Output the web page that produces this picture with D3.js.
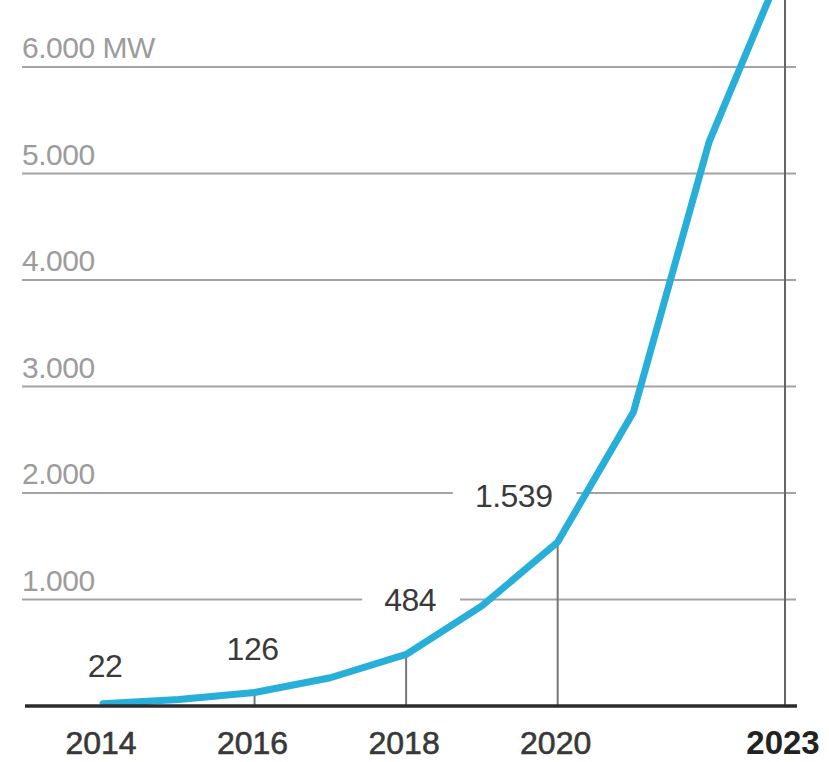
<!DOCTYPE html>
<html>
<head>
<meta charset="utf-8">
<script src="https://cdn.jsdelivr.net/npm/d3@7"></script>
<style>
  html, body { margin: 0; padding: 0; background: #fff; }
  svg { display: block; }
  text { font-family: "Liberation Sans", Arial, sans-serif; }
</style>
</head>
<body>
<div id="wrapper"></div>
<script>
// data (MW installed, per year)
const years = [2014, 2015, 2016, 2017, 2018, 2019, 2020, 2021, 2022, 2023];
const capacity = [22, 60, 126, 265, 484, 940, 1539, 2760, 5300, 7000];

const yTicks = [1000, 2000, 3000, 4000, 5000, 6000];
const yTickLabels = ["1.000", "2.000", "3.000", "4.000", "5.000", "6.000 MW"];

const xTicks = [2014, 2016, 2018, 2020, 2023];
const xTickLabels = ["2014", "2016", "2018", "2020", "2023"];

// labelled points and the vertical drop lines
const labelYears = [2014, 2016, 2018, 2020];
const labelTexts = ["22", "126", "484", "1.539"];
const dropYears = [2016, 2018, 2020];

function draw() {
    const width = 829;
    const height = 762;

    const dimensions = {
        left: 22,
        right: 797,
        top: 67,
        base: 706,
    };

    const xAccessor = (d, i) => years[i];
    const yAccessor = d => d;

    const xScale = d3.scaleLinear()
        .domain([2014, 2023])
        .range([103, 785]);

    const yScale = d3.scaleLinear()
        .domain([0, 6000])
        .range([dimensions.base, dimensions.top]);

    const svg = d3.select("#wrapper")
        .append("svg")
        .attr("width", width)
        .attr("height", height);

    // gridlines
    const grid = svg.append("g").attr("class", "grid");
    grid.selectAll("line")
        .data(yTicks)
        .enter().append("line")
        .attr("x1", dimensions.left)
        .attr("x2", dimensions.right - 1)
        .attr("y1", d => yScale(d))
        .attr("y2", d => yScale(d))
        .attr("stroke", "#a3a3a3")
        .attr("stroke-width", 2);

    grid.selectAll("text")
        .data(yTicks)
        .enter().append("text")
        .attr("x", dimensions.left)
        .attr("y", d => yScale(d) - 9)
        .attr("fill", "#9c9c9c")
        .attr("font-size", 30)
        .attr("letter-spacing", -0.5)
        .text((d, i) => yTickLabels[i]);

    // vertical drop lines
    const drops = svg.append("g").attr("class", "drops");
    drops.selectAll("line")
        .data(dropYears)
        .enter().append("line")
        .attr("x1", d => xScale(d))
        .attr("x2", d => xScale(d))
        .attr("y1", d => yScale(capacity[years.indexOf(d)]))
        .attr("y2", dimensions.base)
        .attr("stroke", "#777")
        .attr("stroke-width", 2);

    drops.append("line")
        .attr("x1", xScale(2023))
        .attr("x2", xScale(2023))
        .attr("y1", 0)
        .attr("y2", dimensions.base)
        .attr("stroke", "#666")
        .attr("stroke-width", 2);

    // point labels, with a white patch that breaks the gridline
    const labels = svg.append("g").attr("class", "point-labels");
    const labelOffsets = [[2, -27], [-2, -33], [4, -43], [-44, -35]];

    const labelGroups = labels.selectAll("g")
        .data(labelYears)
        .enter().append("g");

    labelGroups.append("rect").attr("fill", "#fff");

    labelGroups.append("text")
        .attr("x", (d, i) => xScale(d) + labelOffsets[i][0])
        .attr("y", (d, i) => yScale(capacity[years.indexOf(d)]) + labelOffsets[i][1])
        .attr("text-anchor", "middle")
        .attr("fill", "#3a3a3a")
        .attr("font-size", 32)
        .attr("letter-spacing", -0.5)
        .text((d, i) => labelTexts[i]);

    labelGroups.each(function () {
        const g = d3.select(this);
        const bb = g.select("text").node().getBBox();
        g.select("rect")
            .attr("x", bb.x - 22)
            .attr("y", bb.y + 4)
            .attr("width", bb.width + 46)
            .attr("height", bb.height - 4);
    });

    // the line
    const lineGenerator = d3.line()
        .x((d, i) => xScale(xAccessor(d, i)))
        .y(d => yScale(yAccessor(d)));

    svg.append("path")
        .datum(capacity)
        .attr("d", lineGenerator)
        .attr("fill", "none")
        .attr("stroke", "#27afd9")
        .attr("stroke-width", 7)
        .attr("stroke-linejoin", "round")
        .attr("stroke-linecap", "round");

    // baseline
    svg.append("line")
        .attr("x1", 25)
        .attr("x2", dimensions.right)
        .attr("y1", dimensions.base)
        .attr("y2", dimensions.base)
        .attr("stroke", "#2b2b2b")
        .attr("stroke-width", 3.5);

    // x axis labels
    svg.append("g")
        .attr("class", "x-labels")
        .selectAll("text")
        .data(xTicks)
        .enter().append("text")
        .attr("x", d => xScale(d) - 2)
        .attr("y", 754)
        .attr("text-anchor", "middle")
        .attr("font-size", d => d == 2023 ? 33 : 32)
        .attr("font-weight", d => d == 2023 ? "bold" : "normal")
        .attr("fill", d => d == 2023 ? "#222" : "#383838")
        .attr("stroke", d => d == 2023 ? "none" : "#383838")
        .attr("stroke-width", 0.6)
        .text((d, i) => xTickLabels[i]);
}
draw();
</script>
</body>
</html>
